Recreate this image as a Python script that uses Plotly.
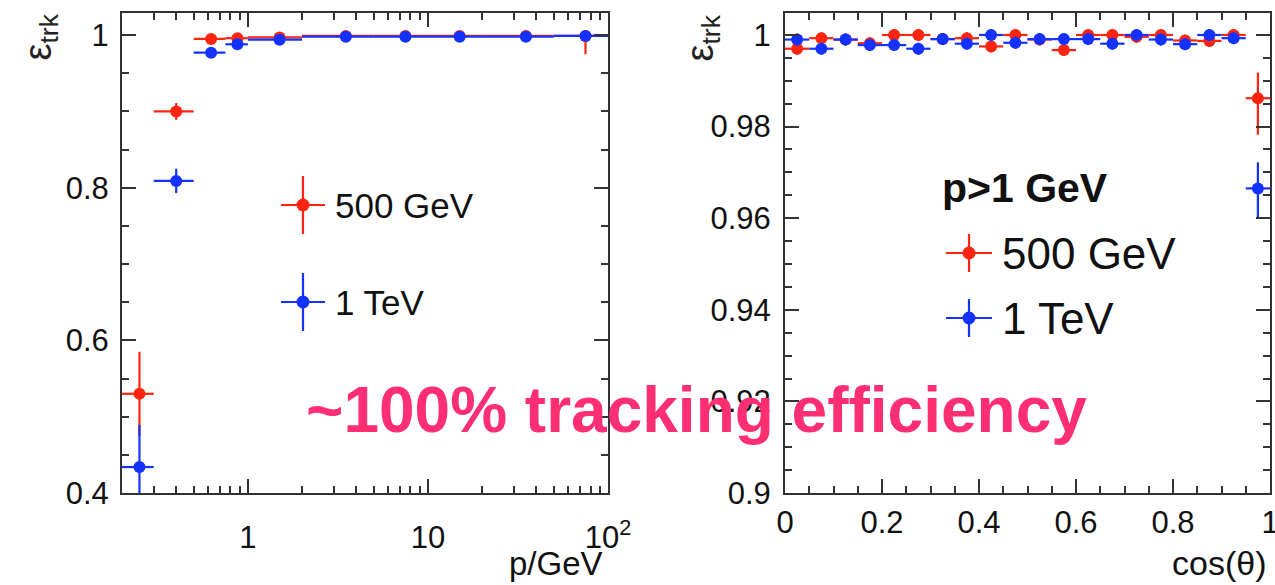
import plotly.graph_objects as go

# ---------------- data ----------------
# left panel: efficiency vs momentum
p_center = [0.25, 0.4, 0.625, 0.875, 1.5, 3.5, 7.5, 15, 35, 75]
p_lo_edge = [0.2, 0.3, 0.5, 0.75, 1, 2, 5, 10, 20, 50]
p_hi_edge = [0.3, 0.5, 0.75, 1, 2, 5, 10, 20, 50, 100]
eff_p_500 = [0.530, 0.900, 0.995, 0.996, 0.997, 0.999, 0.999, 0.999, 0.999, 0.999]
err_p_500_up = [0.055, 0.011, 0.002, 0.002, 0.001, 0.001, 0.001, 0.001, 0.001, 0.0005]
err_p_500_dn = [0.055, 0.011, 0.002, 0.002, 0.001, 0.001, 0.001, 0.001, 0.001, 0.024]
eff_p_1000 = [0.434, 0.809, 0.977, 0.988, 0.994, 0.998, 0.998, 0.998, 0.998, 0.999]
err_p_1000 = [0.055, 0.016, 0.004, 0.003, 0.002, 0.001, 0.001, 0.001, 0.001, 0.001]

# right panel: efficiency vs cos(theta), p > 1 GeV
cos_center = [0.025, 0.075, 0.125, 0.175, 0.225, 0.275, 0.325, 0.375, 0.425, 0.475,
              0.525, 0.575, 0.625, 0.675, 0.725, 0.775, 0.825, 0.875, 0.925, 0.975]
cos_halfwidth = [0.025] * 20
eff_cos_500 = [0.9970, 0.9993, 0.9990, 0.9982, 1.0000, 1.0000, 0.9991, 0.9993, 0.9975, 1.0000,
               0.9990, 0.9967, 1.0000, 1.0000, 0.9996, 1.0000, 0.9988, 0.9987, 1.0000, 0.9862]
err_cos_500_up = [0.0013] * 19 + [0.0056]
err_cos_500_dn = [0.0013] * 19 + [0.0080]
eff_cos_1000 = [0.9990, 0.9970, 0.9990, 0.9978, 0.9978, 0.9970, 0.9991, 0.9981, 1.0000, 0.9983,
                0.9991, 0.9991, 0.9991, 0.9981, 1.0000, 0.9990, 0.9980, 1.0000, 0.9993, 0.9665]
err_cos_1000_up = [0.0013] * 19 + [0.0057]
err_cos_1000_dn = [0.0013] * 19 + [0.0065]

series_names = ["500 GeV", "1 TeV"]
left_yticks = [0.4, 0.6, 0.8, 1.0]
left_yticktext = ["0.4", "0.6", "0.8", "1"]
left_xticks = [1, 10, 100]
left_xticktext = ["1", "10", "10<sup>2</sup>"]
right_yticks = [0.9, 0.92, 0.94, 0.96, 0.98, 1.0]
right_yticktext = ["0.9", "0.92", "0.94", "0.96", "0.98", "1"]
right_xticks = [0, 0.2, 0.4, 0.6, 0.8, 1.0]
right_xticktext = ["0", "0.2", "0.4", "0.6", "0.8", "1"]

# ---------------- style ----------------
W, H = 1275, 585
RED = "#ff2410"
BLUE = "#1432ff"
FRAME = "#333333"
FONT = "Liberation Sans"
PINK = "#fe2e72"


def px(x):
    return x / W


def py(y):
    return 1 - y / H


fig = go.Figure()

xm = [c - lo for c, lo in zip(p_center, p_lo_edge)]
xp = [hi - c for c, hi in zip(p_center, p_hi_edge)]


def add_series(x, y, ex_p, ex_m, ey_p, ey_m, color, xa, ya):
    fig.add_trace(go.Scatter(
        x=x, y=y, mode="markers", xaxis=xa, yaxis=ya, showlegend=False,
        marker=dict(color=color, size=12, symbol="circle"),
        error_x=dict(type="data", array=ex_p, arrayminus=ex_m, symmetric=False,
                     color=color, thickness=2.2, width=0),
        error_y=dict(type="data", array=ey_p, arrayminus=ey_m, symmetric=False,
                     color=color, thickness=2.2, width=0),
        cliponaxis=True,
    ))


add_series(p_center, eff_p_500, xp, xm, err_p_500_up, err_p_500_dn, RED, "x", "y")
add_series(p_center, eff_p_1000, xp, xm, err_p_1000, err_p_1000, BLUE, "x", "y")
add_series(cos_center, eff_cos_500, cos_halfwidth, cos_halfwidth,
           err_cos_500_up, err_cos_500_dn, RED, "x2", "y2")
add_series(cos_center, eff_cos_1000, cos_halfwidth, cos_halfwidth,
           err_cos_1000_up, err_cos_1000_dn, BLUE, "x2", "y2")

axis_common = dict(
    showline=True, linecolor=FRAME, linewidth=2, mirror="ticks",
    ticks="inside", ticklen=14, tickwidth=2, tickcolor=FRAME,
    showgrid=False, zeroline=False, automargin=False,
    ticklabeloverflow="allow",
    tickfont=dict(family=FONT, size=31, color="#111111"),
)

ydom = [py(493), py(13)]

fig.update_layout(
    width=W, height=H, autosize=False,
    margin=dict(l=0, r=0, t=0, b=0, pad=0),
    paper_bgcolor="white", plot_bgcolor="white",
    xaxis=dict(domain=[px(122), px(608)], type="log",
               range=[-0.69897, 2.0], anchor="y",
               tickmode="array", tickvals=left_xticks, ticktext=left_xticktext,
               ticklabelstandoff=16,
               minor=dict(ticks="inside", ticklen=7, tickwidth=2, tickcolor=FRAME,
                          tickmode="array",
                          tickvals=[0.2, 0.3, 0.4, 0.5, 0.6, 0.7, 0.8, 0.9,
                                    2, 3, 4, 5, 6, 7, 8, 9,
                                    20, 30, 40, 50, 60, 70, 80, 90]),
               **axis_common),
    yaxis=dict(domain=ydom, range=[0.4, 1.029], anchor="x",
               tickmode="array", tickvals=left_yticks, ticktext=left_yticktext,
               ticklabelstandoff=5,
               minor=dict(ticks="inside", ticklen=7, tickwidth=2, tickcolor=FRAME,
                          dtick=0.05, tick0=0.4),
               **axis_common),
    xaxis2=dict(domain=[px(785), px(1270)], range=[0, 1], anchor="y2",
                tickmode="array", tickvals=right_xticks, ticktext=right_xticktext,
                ticklabelstandoff=1,
                minor=dict(ticks="inside", ticklen=7, tickwidth=2, tickcolor=FRAME,
                           dtick=0.05, tick0=0),
                **axis_common),
    yaxis2=dict(domain=ydom, range=[0.9, 1.0048], anchor="x2",
                tickmode="array", tickvals=right_yticks, ticktext=right_yticktext,
                ticklabelstandoff=6,
                minor=dict(ticks="inside", ticklen=7, tickwidth=2, tickcolor=FRAME,
                           dtick=0.005, tick0=0.9),
                **axis_common),
)

annotations = []
shapes = []

# axis titles (kept fully inside the paper so no margin is auto-added)
annotations.append(dict(text="p/GeV", x=px(605), y=py(584), xref="paper", yref="paper",
                        xanchor="right", yanchor="bottom", showarrow=False,
                        font=dict(family=FONT, size=33, color="#111111")))
annotations.append(dict(text="cos(θ)", x=px(1268), y=py(584), xref="paper", yref="paper",
                        xanchor="right", yanchor="bottom", showarrow=False,
                        font=dict(family=FONT, size=34, color="#111111")))
for xc in (40, 702):
    annotations.append(dict(text="ε<sub>trk</sub>", x=px(xc), y=py(12), xref="paper",
                            yref="paper", xanchor="center", yanchor="top",
                            textangle=-90, showarrow=False,
                            font=dict(family=FONT, size=38, color="#222222")))


def legend_entry(cx, cy, hx, hy, color, label, tx, size, r=6.5):
    shapes.append(dict(type="line", xref="paper", yref="paper",
                       x0=px(cx - hx), x1=px(cx + hx), y0=py(cy), y1=py(cy),
                       line=dict(color=color, width=2.2)))
    shapes.append(dict(type="line", xref="paper", yref="paper",
                       x0=px(cx), x1=px(cx), y0=py(cy - hy), y1=py(cy + hy),
                       line=dict(color=color, width=2.2)))
    shapes.append(dict(type="circle", xref="paper", yref="paper",
                       x0=px(cx - r), x1=px(cx + r), y0=py(cy - r), y1=py(cy + r),
                       fillcolor=color, line=dict(color=color, width=0)))
    annotations.append(dict(text=label, x=px(tx), y=py(cy), xref="paper", yref="paper",
                            xanchor="left", yanchor="middle", showarrow=False,
                            font=dict(family=FONT, size=size, color="#111111")))


# left legend
legend_entry(303, 205, 22, 29, RED, series_names[0], 333, 35)
legend_entry(303, 302, 22, 29, BLUE, series_names[1], 333, 35)
# right legend
annotations.append(dict(text="<b>p>1 GeV</b>", x=px(940), y=py(188), xref="paper",
                        yref="paper", xanchor="left", yanchor="middle", showarrow=False,
                        font=dict(family=FONT, size=41, color="#111111")))
legend_entry(969, 253, 23, 19, RED, series_names[0], 1000, 44)
legend_entry(969, 318, 23, 19, BLUE, series_names[1], 1000, 44)

# slide overlay text
annotations.append(dict(text="<b>~100% tracking efficiency</b>", x=px(696), y=py(410),
                        xref="paper", yref="paper", xanchor="center", yanchor="middle",
                        showarrow=False,
                        font=dict(family=FONT, size=64, color=PINK)))

fig.update_layout(annotations=annotations, shapes=shapes)
fig.write_html(
    "out.html",
    config={"displayModeBar": False},
    post_script="document.body.style.margin='0';document.body.style.overflow='hidden';",
)
